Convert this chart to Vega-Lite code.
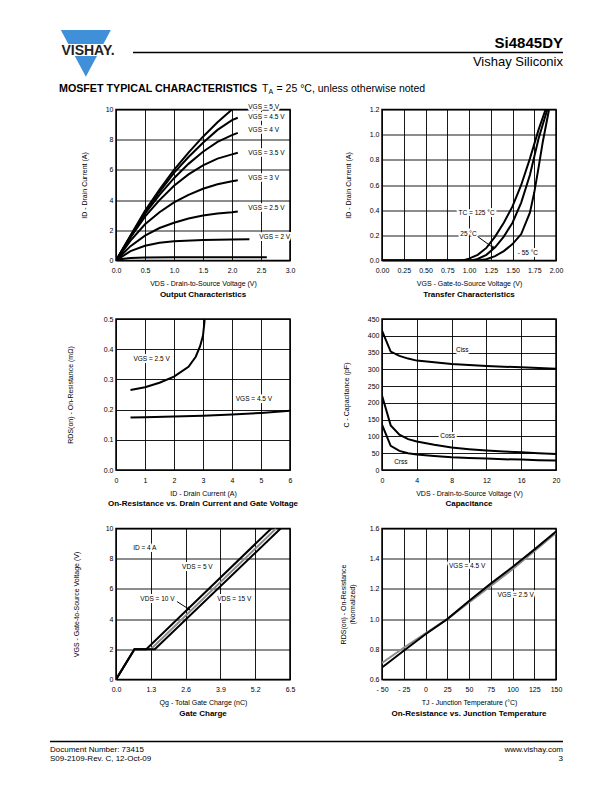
{
 "$schema": "https://vega.github.io/schema/vega-lite/v6.json",
 "background": "white",
 "padding": 0,
 "autosize": {"type": "pad"},
 "columns": 3,
 "spacing": {"row": 58.5, "column": 92},
 "bounds": "flush",
 "config": {
  "font": "Liberation Sans",
  "view": {"stroke": "black", "strokeWidth": 1.5},
  "axis": {"grid": true, "gridColor": "black", "gridOpacity": 1, "gridWidth": 0.9, "domain": false, "ticks": false, "labelFont": "Liberation Sans", "labelFontSize": 7, "labelColor": "black", "labelPadding": 3, "labelFlush": false, "labelOverlap": false, "titleFont": "Liberation Sans", "titleFontSize": 7, "titleFontWeight": "normal", "titleColor": "black"},
  "axisX": {"labelPadding": 6, "titlePadding": 6},
  "title": {"font": "Liberation Sans", "fontSize": 8, "fontWeight": "bold", "color": "black", "orient": "bottom", "offset": 4},
  "line": {"strokeWidth": 2, "color": "black"},
  "text": {"font": "Liberation Sans", "color": "black"}
 },
 "datasets": {
  "p1": [
   {"s":"5","x":0,"y":0},{"s":"5","x":0.25,"y":1.65},{"s":"5","x":0.5,"y":3.3},{"s":"5","x":0.75,"y":4.7},{"s":"5","x":1,"y":6},{"s":"5","x":1.25,"y":7.15},{"s":"5","x":1.5,"y":8.2},{"s":"5","x":1.75,"y":9.15},{"s":"5","x":2,"y":10},
   {"s":"4.5","x":0,"y":0},{"s":"4.5","x":0.25,"y":1.62},{"s":"4.5","x":0.5,"y":3.2},{"s":"4.5","x":0.75,"y":4.55},{"s":"4.5","x":1,"y":5.8},{"s":"4.5","x":1.25,"y":6.85},{"s":"4.5","x":1.5,"y":7.8},{"s":"4.5","x":1.75,"y":8.65},{"s":"4.5","x":2,"y":9.3},{"s":"4.5","x":2.1,"y":9.45},
   {"s":"4","x":0,"y":0},{"s":"4","x":0.25,"y":1.58},{"s":"4","x":0.5,"y":3.1},{"s":"4","x":0.75,"y":4.35},{"s":"4","x":1,"y":5.45},{"s":"4","x":1.25,"y":6.4},{"s":"4","x":1.5,"y":7.2},{"s":"4","x":1.75,"y":7.85},{"s":"4","x":2,"y":8.3},{"s":"4","x":2.1,"y":8.45},
   {"s":"3.5","x":0,"y":0},{"s":"3.5","x":0.25,"y":1.52},{"s":"3.5","x":0.5,"y":2.9},{"s":"3.5","x":0.75,"y":4},{"s":"3.5","x":1,"y":4.95},{"s":"3.5","x":1.25,"y":5.7},{"s":"3.5","x":1.5,"y":6.3},{"s":"3.5","x":1.75,"y":6.75},{"s":"3.5","x":2,"y":7.03},{"s":"3.5","x":2.1,"y":7.13},
   {"s":"3","x":0,"y":0},{"s":"3","x":0.25,"y":1.32},{"s":"3","x":0.5,"y":2.4},{"s":"3","x":0.75,"y":3.2},{"s":"3","x":1,"y":3.85},{"s":"3","x":1.25,"y":4.35},{"s":"3","x":1.5,"y":4.75},{"s":"3","x":1.75,"y":5.05},{"s":"3","x":2,"y":5.25},{"s":"3","x":2.1,"y":5.32},
   {"s":"2.5","x":0,"y":0},{"s":"2.5","x":0.25,"y":0.95},{"s":"2.5","x":0.5,"y":1.65},{"s":"2.5","x":0.75,"y":2.15},{"s":"2.5","x":1,"y":2.5},{"s":"2.5","x":1.25,"y":2.78},{"s":"2.5","x":1.5,"y":2.98},{"s":"2.5","x":1.75,"y":3.12},{"s":"2.5","x":2,"y":3.2},{"s":"2.5","x":2.1,"y":3.25},
   {"s":"2","x":0,"y":0},{"s":"2","x":0.25,"y":0.62},{"s":"2","x":0.5,"y":0.98},{"s":"2","x":0.75,"y":1.18},{"s":"2","x":1,"y":1.28},{"s":"2","x":1.5,"y":1.36},{"s":"2","x":2,"y":1.39},{"s":"2","x":2.3,"y":1.4},
   {"s":"1.5","x":0,"y":0},{"s":"1.5","x":0.1,"y":0.1},{"s":"1.5","x":0.25,"y":0.17},{"s":"1.5","x":0.5,"y":0.2},{"s":"1.5","x":1,"y":0.21},{"s":"1.5","x":2,"y":0.22},{"s":"1.5","x":2.6,"y":0.22}
  ],
  "p1l": [
   {"x":2.28,"y":10.15,"t":"VGS = 5 V"},{"x":2.28,"y":9.5,"t":"VGS = 4.5 V"},{"x":2.28,"y":8.65,"t":"VGS = 4 V"},{"x":2.28,"y":7.15,"t":"VGS = 3.5 V"},{"x":2.28,"y":5.45,"t":"VGS = 3 V"},{"x":2.28,"y":3.45,"t":"VGS = 2.5 V"},{"x":2.47,"y":1.55,"t":"VGS = 2 V"}
  ],
  "p2": [
   {"s":"125","x":0,"y":0},{"s":"125","x":0.88,"y":0},{"s":"125","x":0.95,"y":0.005},{"s":"125","x":1,"y":0.015},{"s":"125","x":1.1,"y":0.045},{"s":"125","x":1.2,"y":0.1},{"s":"125","x":1.3,"y":0.19},{"s":"125","x":1.4,"y":0.3},{"s":"125","x":1.5,"y":0.43},{"s":"125","x":1.6,"y":0.6},{"s":"125","x":1.7,"y":0.81},{"s":"125","x":1.8,"y":1.04},{"s":"125","x":1.88,"y":1.2},
   {"s":"25","x":0,"y":0},{"s":"25","x":0.98,"y":0},{"s":"25","x":1.05,"y":0.005},{"s":"25","x":1.1,"y":0.012},{"s":"25","x":1.2,"y":0.045},{"s":"25","x":1.3,"y":0.105},{"s":"25","x":1.4,"y":0.19},{"s":"25","x":1.5,"y":0.3},{"s":"25","x":1.6,"y":0.46},{"s":"25","x":1.7,"y":0.68},{"s":"25","x":1.8,"y":0.97},{"s":"25","x":1.9,"y":1.2},
   {"s":"-55","x":0,"y":0},{"s":"-55","x":1.1,"y":0},{"s":"-55","x":1.2,"y":0.01},{"s":"-55","x":1.3,"y":0.035},{"s":"-55","x":1.4,"y":0.075},{"s":"-55","x":1.5,"y":0.13},{"s":"-55","x":1.6,"y":0.21},{"s":"-55","x":1.7,"y":0.38},{"s":"-55","x":1.75,"y":0.54},{"s":"-55","x":1.8,"y":0.74},{"s":"-55","x":1.85,"y":0.95},{"s":"-55","x":1.92,"y":1.2}
  ],
  "p2l": [
   {"x":0.88,"y":0.38,"t":"TC = 125 °C"},{"x":0.9,"y":0.207,"t":"25 °C"},{"x":1.56,"y":0.056,"t":"- 55 °C"}
  ],
  "p2a": [{"x":1.1,"y":0.19,"x2":1.28,"y2":0.1}],
  "p2h": [{"x":1.28,"y":0.1}],
  "p3": [
   {"s":"2.5","x":0.5,"y":0.265},{"s":"2.5","x":1,"y":0.274},{"s":"2.5","x":1.5,"y":0.289},{"s":"2.5","x":2,"y":0.309},{"s":"2.5","x":2.5,"y":0.342},{"s":"2.5","x":2.75,"y":0.375},{"s":"2.5","x":2.9,"y":0.41},{"s":"2.5","x":3,"y":0.445},{"s":"2.5","x":3.05,"y":0.49},{"s":"2.5","x":3.08,"y":0.55},
   {"s":"4.5","x":0.5,"y":0.174},{"s":"4.5","x":1,"y":0.175},{"s":"4.5","x":2,"y":0.177},{"s":"4.5","x":3,"y":0.18},{"s":"4.5","x":4,"y":0.184},{"s":"4.5","x":5,"y":0.189},{"s":"4.5","x":6,"y":0.196}
  ],
  "p3l": [{"x":0.6,"y":0.366,"t":"VGS = 2.5 V"},{"x":4.13,"y":0.234,"t":"VGS = 4.5 V"}],
  "p4": [
   {"s":"Ciss","x":0,"y":415},{"s":"Ciss","x":1,"y":353},{"s":"Ciss","x":2,"y":340},{"s":"Ciss","x":3,"y":332},{"s":"Ciss","x":4,"y":326},{"s":"Ciss","x":6,"y":321},{"s":"Ciss","x":8,"y":316},{"s":"Ciss","x":10,"y":313},{"s":"Ciss","x":12,"y":310},{"s":"Ciss","x":14,"y":308},{"s":"Ciss","x":16,"y":306},{"s":"Ciss","x":18,"y":304},{"s":"Ciss","x":20,"y":302},
   {"s":"Coss","x":0,"y":222},{"s":"Coss","x":1,"y":133},{"s":"Coss","x":2,"y":105},{"s":"Coss","x":3,"y":92},{"s":"Coss","x":4,"y":85},{"s":"Coss","x":6,"y":75},{"s":"Coss","x":8,"y":67},{"s":"Coss","x":10,"y":62},{"s":"Coss","x":12,"y":58},{"s":"Coss","x":14,"y":55},{"s":"Coss","x":16,"y":53},{"s":"Coss","x":18,"y":50},{"s":"Coss","x":20,"y":48},
   {"s":"Crss","x":0,"y":135},{"s":"Crss","x":1,"y":72},{"s":"Crss","x":2,"y":57},{"s":"Crss","x":3,"y":50},{"s":"Crss","x":4,"y":46},{"s":"Crss","x":6,"y":42},{"s":"Crss","x":8,"y":38},{"s":"Crss","x":10,"y":36},{"s":"Crss","x":12,"y":34},{"s":"Crss","x":14,"y":32},{"s":"Crss","x":16,"y":31},{"s":"Crss","x":18,"y":29},{"s":"Crss","x":20,"y":28}
  ],
  "p4l": [{"x":8.5,"y":358,"t":"Ciss"},{"x":6.7,"y":101,"t":"Coss"},{"x":1.4,"y":23,"t":"Crss"}],
  "p5": [
   {"s":"10","x":0,"y":0},{"s":"10","x":0.69,"y":2},{"s":"10","x":1.3,"y":2},{"s":"10","x":5.98,"y":10},
   {"s":"5","x":0,"y":0},{"s":"5","x":0.69,"y":2},{"s":"5","x":1.13,"y":2},{"s":"5","x":5.8,"y":10},
   {"s":"15","x":0,"y":0},{"s":"15","x":0.69,"y":2},{"s":"15","x":1.45,"y":2},{"s":"15","x":6.15,"y":10}
  ],
  "p5l": [{"x":0.64,"y":8.73,"t":"ID = 4 A"},{"x":2.47,"y":7.47,"t":"VDS = 5 V"},{"x":0.91,"y":5.36,"t":"VDS = 10 V"},{"x":3.78,"y":5.36,"t":"VDS = 15 V"}],
  "p5a": [{"x":2.28,"y":5.16,"x2":2.72,"y2":4.66}],
  "p5h": [{"x":2.72,"y":4.66}],
  "p6": [
   {"s":"2.5","x":-50,"y":0.71},{"s":"2.5","x":-25,"y":0.81},{"s":"2.5","x":0,"y":0.905},{"s":"2.5","x":25,"y":1.0},{"s":"2.5","x":50,"y":1.11},{"s":"2.5","x":75,"y":1.22},{"s":"2.5","x":100,"y":1.33},{"s":"2.5","x":125,"y":1.45},{"s":"2.5","x":150,"y":1.57},
   {"s":"4.5","x":-50,"y":0.68},{"s":"4.5","x":-25,"y":0.79},{"s":"4.5","x":0,"y":0.9},{"s":"4.5","x":25,"y":1.0},{"s":"4.5","x":50,"y":1.12},{"s":"4.5","x":75,"y":1.235},{"s":"4.5","x":100,"y":1.345},{"s":"4.5","x":125,"y":1.46},{"s":"4.5","x":150,"y":1.58}
  ],
  "p6l": [{"x":27,"y":1.35,"t":"VGS = 4.5 V"},{"x":82.7,"y":1.16,"t":"VGS = 2.5 V"}],
  "blank": [{"t": ""}]
 },
 "concat": [
  {
   "width": 24, "height": 50.5,
   "view": {"stroke": null},
   "encoding": {
    "x": {"field": "x", "type": "quantitative", "scale": {"domain": [0, 612], "range": [0, 612], "nice": false, "zero": false}, "axis": null},
    "y": {"field": "y", "type": "quantitative", "scale": {"domain": [0, 52], "range": [0, 52], "nice": false, "zero": false}, "axis": null}
   },
   "layer": [
    {"data": {"values": [{"x": 85.85, "y": 53.35}]}, "mark": {"type": "point", "shape": "M-1,-0.934L1,-0.934L0,0.934Z", "size": 2500, "filled": true, "color": "#3f8fd9", "opacity": 1, "strokeWidth": 0}},
    {"data": {"values": [{"x": 86, "y": 50}]}, "mark": {"type": "point", "shape": "M-1,-0.2L1,-0.2L1,0.2L-1,0.2Z", "size": 3600, "filled": true, "color": "white", "opacity": 1, "strokeWidth": 0}},
    {"data": {"values": [{"x": 88, "y": 50.5, "t": "VISHAY."}]}, "mark": {"type": "text", "fontSize": 14, "fontWeight": "bold", "align": "center", "baseline": "middle", "color": "#222222"}, "encoding": {"text": {"field": "t"}}},
    {"data": {"values": [{"x": 133, "x2": 563, "y": 52.5}]}, "mark": {"type": "rule", "strokeWidth": 1.3, "color": "black"}, "encoding": {"x2": {"field": "x2"}}},
    {"data": {"values": [{"x": 563, "y": 43, "t": "Si4845DY"}]}, "mark": {"type": "text", "fontSize": 15, "fontWeight": "bold", "align": "right", "baseline": "middle"}, "encoding": {"text": {"field": "t"}}},
    {"data": {"values": [{"x": 563, "y": 62, "t": "Vishay Siliconix"}]}, "mark": {"type": "text", "fontSize": 13, "align": "right", "baseline": "middle"}, "encoding": {"text": {"field": "t"}}},
    {"data": {"values": [{"x": 59, "y": 89, "t": "MOSFET TYPICAL CHARACTERISTICS"}]}, "mark": {"type": "text", "fontSize": 10.7, "fontWeight": "bold", "align": "left", "baseline": "middle"}, "encoding": {"text": {"field": "t"}}},
    {"data": {"values": [{"x": 262, "y": 89, "t": "T"}, {"x": 276.5, "y": 89, "t": "= 25 °C, unless otherwise noted"}]}, "mark": {"type": "text", "fontSize": 10.5, "align": "left", "baseline": "middle"}, "encoding": {"text": {"field": "t"}}},
    {"data": {"values": [{"x": 268.5, "y": 92, "t": "A"}]}, "mark": {"type": "text", "fontSize": 7, "align": "left", "baseline": "middle"}, "encoding": {"text": {"field": "t"}}}
   ]
  },
  {"width": 174, "height": 50.5, "view": {"stroke": null}, "data": {"name": "blank"}, "mark": {"type": "text"}, "encoding": {"text": {"field": "t"}}},
  {"width": 174, "height": 50.5, "view": {"stroke": null}, "data": {"name": "blank"}, "mark": {"type": "text"}, "encoding": {"text": {"field": "t"}}},

  {"width": 24, "height": 151, "view": {"stroke": null}, "data": {"name": "blank"}, "mark": {"type": "text"}, "encoding": {"text": {"field": "t"}}},
  {
   "width": 174, "height": 151,
   "title": {"text": "Output Characteristics"},
   "encoding": {
    "x": {"field": "x", "type": "quantitative", "scale": {"domain": [0, 3], "nice": false, "zero": false}, "axis": {"values": [0, 0.5, 1, 1.5, 2, 2.5, 3], "format": ".1f", "title": "VDS - Drain-to-Source Voltage (V)"}},
    "y": {"field": "y", "type": "quantitative", "scale": {"domain": [0, 10], "nice": false, "zero": false}, "axis": {"values": [0, 2, 4, 6, 8, 10], "title": "ID - Drain Current (A)", "titlePadding": 18}}
   },
   "layer": [
    {"data": {"name": "p1"}, "mark": {"type": "line", "clip": true}, "encoding": {"detail": {"field": "s"}}},
    {"data": {"name": "p1l"}, "mark": {"type": "text", "align": "left", "baseline": "middle", "fontSize": 6.5, "stroke": "white", "strokeWidth": 4, "strokeJoin": "round", "fill": "white"}, "encoding": {"text": {"field": "t"}}},
    {"data": {"name": "p1l"}, "mark": {"type": "text", "align": "left", "baseline": "middle", "fontSize": 6.5, "fill": "black"}, "encoding": {"text": {"field": "t"}}}
   ]
  },
  {
   "width": 174, "height": 151,
   "title": {"text": "Transfer Characteristics"},
   "encoding": {
    "x": {"field": "x", "type": "quantitative", "scale": {"domain": [0, 2], "nice": false, "zero": false}, "axis": {"values": [0, 0.25, 0.5, 0.75, 1, 1.25, 1.5, 1.75, 2], "format": ".2f", "title": "VGS - Gate-to-Source Voltage (V)"}},
    "y": {"field": "y", "type": "quantitative", "scale": {"domain": [0, 1.2], "nice": false, "zero": false}, "axis": {"values": [0, 0.2, 0.4, 0.6, 0.8, 1, 1.2], "format": ".1f", "title": "ID - Drain Current (A)", "titlePadding": 18}}
   },
   "layer": [
    {"data": {"name": "p2"}, "mark": {"type": "line", "clip": true}, "encoding": {"detail": {"field": "s"}}},
    {"data": {"name": "p2l"}, "mark": {"type": "text", "align": "left", "baseline": "middle", "fontSize": 6.5, "stroke": "white", "strokeWidth": 4, "strokeJoin": "round", "fill": "white"}, "encoding": {"text": {"field": "t"}}},
    {"data": {"name": "p2a"}, "mark": {"type": "rule", "color": "black", "strokeWidth": 1}, "encoding": {"x2": {"field": "x2"}, "y2": {"field": "y2"}}},
    {"data": {"name": "p2h"}, "mark": {"type": "point", "shape": "triangle-right", "angle": 34, "size": 18, "filled": true, "color": "black", "opacity": 1}},
    {"data": {"name": "p2l"}, "mark": {"type": "text", "align": "left", "baseline": "middle", "fontSize": 6.5, "fill": "black"}, "encoding": {"text": {"field": "t"}}}
   ]
  },

  {"width": 24, "height": 151, "view": {"stroke": null}, "data": {"name": "blank"}, "mark": {"type": "text"}, "encoding": {"text": {"field": "t"}}},
  {
   "width": 174, "height": 151,
   "title": {"text": "On-Resistance vs. Drain Current and Gate Voltage"},
   "encoding": {
    "x": {"field": "x", "type": "quantitative", "scale": {"domain": [0, 6], "nice": false, "zero": false}, "axis": {"values": [0, 1, 2, 3, 4, 5, 6], "title": "ID - Drain Current (A)"}},
    "y": {"field": "y", "type": "quantitative", "scale": {"domain": [0, 0.5], "nice": false, "zero": false}, "axis": {"values": [0, 0.1, 0.2, 0.3, 0.4, 0.5], "format": ".1f", "title": "RDS(on) - On-Resistance (mΩ)", "titlePadding": 30}}
   },
   "layer": [
    {"data": {"name": "p3"}, "mark": {"type": "line", "clip": true}, "encoding": {"detail": {"field": "s"}}},
    {"data": {"name": "p3l"}, "mark": {"type": "text", "align": "left", "baseline": "middle", "fontSize": 6.5, "stroke": "white", "strokeWidth": 4, "strokeJoin": "round", "fill": "white"}, "encoding": {"text": {"field": "t"}}},
    {"data": {"name": "p3l"}, "mark": {"type": "text", "align": "left", "baseline": "middle", "fontSize": 6.5, "fill": "black"}, "encoding": {"text": {"field": "t"}}}
   ]
  },
  {
   "width": 174, "height": 151,
   "title": {"text": "Capacitance"},
   "encoding": {
    "x": {"field": "x", "type": "quantitative", "scale": {"domain": [0, 20], "nice": false, "zero": false}, "axis": {"values": [0, 4, 8, 12, 16, 20], "title": "VDS - Drain-to-Source Voltage (V)"}},
    "y": {"field": "y", "type": "quantitative", "scale": {"domain": [0, 450], "nice": false, "zero": false}, "axis": {"values": [0, 50, 100, 150, 200, 250, 300, 350, 400, 450], "title": "C - Capacitance (pF)", "titlePadding": 18}}
   },
   "layer": [
    {"data": {"name": "p4"}, "mark": {"type": "line", "clip": true}, "encoding": {"detail": {"field": "s"}}},
    {"data": {"name": "p4l"}, "mark": {"type": "text", "align": "left", "baseline": "middle", "fontSize": 6.5, "stroke": "white", "strokeWidth": 4, "strokeJoin": "round", "fill": "white"}, "encoding": {"text": {"field": "t"}}},
    {"data": {"name": "p4l"}, "mark": {"type": "text", "align": "left", "baseline": "middle", "fontSize": 6.5, "fill": "black"}, "encoding": {"text": {"field": "t"}}}
   ]
  },

  {"width": 24, "height": 151, "view": {"stroke": null}, "data": {"name": "blank"}, "mark": {"type": "text"}, "encoding": {"text": {"field": "t"}}},
  {
   "width": 174, "height": 151,
   "title": {"text": "Gate Charge"},
   "encoding": {
    "x": {"field": "x", "type": "quantitative", "scale": {"domain": [0, 6.5], "nice": false, "zero": false}, "axis": {"values": [0, 1.3, 2.6, 3.9, 5.2, 6.5], "format": ".1f", "title": "Qg - Total Gate Charge (nC)"}},
    "y": {"field": "y", "type": "quantitative", "scale": {"domain": [0, 10], "nice": false, "zero": false}, "axis": {"values": [0, 2, 4, 6, 8, 10], "title": "VGS - Gate-to-Source Voltage (V)", "titlePadding": 26}}
   },
   "layer": [
    {"data": {"name": "p5"}, "mark": {"type": "line", "clip": true}, "encoding": {"color": {"field": "s", "type": "nominal", "scale": {"domain": ["10", "5", "15"], "range": ["#8c8c8c", "black", "black"]}, "legend": null}}},
    {"data": {"name": "p5l"}, "mark": {"type": "text", "align": "left", "baseline": "middle", "fontSize": 6.5, "stroke": "white", "strokeWidth": 4, "strokeJoin": "round", "fill": "white"}, "encoding": {"text": {"field": "t"}}},
    {"data": {"name": "p5a"}, "mark": {"type": "rule", "color": "black", "strokeWidth": 1}, "encoding": {"x2": {"field": "x2"}, "y2": {"field": "y2"}}},
    {"data": {"name": "p5h"}, "mark": {"type": "point", "shape": "triangle-right", "angle": 33, "size": 18, "filled": true, "color": "black", "opacity": 1}},
    {"data": {"name": "p5l"}, "mark": {"type": "text", "align": "left", "baseline": "middle", "fontSize": 6.5, "fill": "black"}, "encoding": {"text": {"field": "t"}}}
   ]
  },
  {
   "width": 174, "height": 151,
   "title": {"text": "On-Resistance vs. Junction Temperature"},
   "encoding": {
    "x": {"field": "x", "type": "quantitative", "scale": {"domain": [-50, 150], "nice": false, "zero": false}, "axis": {"values": [-50, -25, 0, 25, 50, 75, 100, 125, 150], "labelExpr": "datum.value < 0 ? '- ' + abs(datum.value) : datum.label", "title": "TJ - Junction Temperature (°C)"}},
    "y": {"field": "y", "type": "quantitative", "scale": {"domain": [0.6, 1.6], "nice": false, "zero": false}, "axis": {"values": [0.6, 0.8, 1, 1.2, 1.4, 1.6], "format": ".1f", "title": ["RDS(on) - On-Resistance", "(Normalized)"], "titlePadding": 14}}
   },
   "layer": [
    {"data": {"name": "p6"}, "mark": {"type": "line", "clip": true}, "encoding": {"color": {"field": "s", "type": "nominal", "scale": {"domain": ["2.5", "4.5"], "range": ["#8c8c8c", "black"]}, "legend": null}}},
    {"data": {"name": "p6l"}, "mark": {"type": "text", "align": "left", "baseline": "middle", "fontSize": 6.5, "stroke": "white", "strokeWidth": 4, "strokeJoin": "round", "fill": "white"}, "encoding": {"text": {"field": "t"}}},
    {"data": {"name": "p6l"}, "mark": {"type": "text", "align": "left", "baseline": "middle", "fontSize": 6.5, "fill": "black"}, "encoding": {"text": {"field": "t"}}}
   ]
  },

  {
   "width": 24, "height": 30,
   "view": {"stroke": null},
   "encoding": {
    "x": {"field": "x", "type": "quantitative", "scale": {"domain": [0, 612], "range": [0, 612], "nice": false, "zero": false}, "axis": null},
    "y": {"field": "y", "type": "quantitative", "scale": {"domain": [737.5, 767.5], "range": [0, 30], "nice": false, "zero": false}, "axis": null}
   },
   "layer": [
    {"data": {"values": [{"x": 50, "x2": 563, "y": 741}]}, "mark": {"type": "rule", "strokeWidth": 1.3, "color": "black"}, "encoding": {"x2": {"field": "x2"}}},
    {"data": {"values": [{"x": 50, "y": 749, "t": "Document Number: 73415"}, {"x": 50, "y": 758.5, "t": "S09-2109-Rev. C, 12-Oct-09"}]}, "mark": {"type": "text", "fontSize": 8, "align": "left", "baseline": "middle"}, "encoding": {"text": {"field": "t"}}},
    {"data": {"values": [{"x": 563, "y": 749, "t": "www.vishay.com"}, {"x": 563, "y": 758.5, "t": "3"}]}, "mark": {"type": "text", "fontSize": 8, "align": "right", "baseline": "middle"}, "encoding": {"text": {"field": "t"}}}
   ]
  },
  {"width": 174, "height": 30, "view": {"stroke": null}, "data": {"name": "blank"}, "mark": {"type": "text"}, "encoding": {"text": {"field": "t"}}},
  {"width": 174, "height": 30, "view": {"stroke": null}, "data": {"name": "blank"}, "mark": {"type": "text"}, "encoding": {"text": {"field": "t"}}}
 ]
}
